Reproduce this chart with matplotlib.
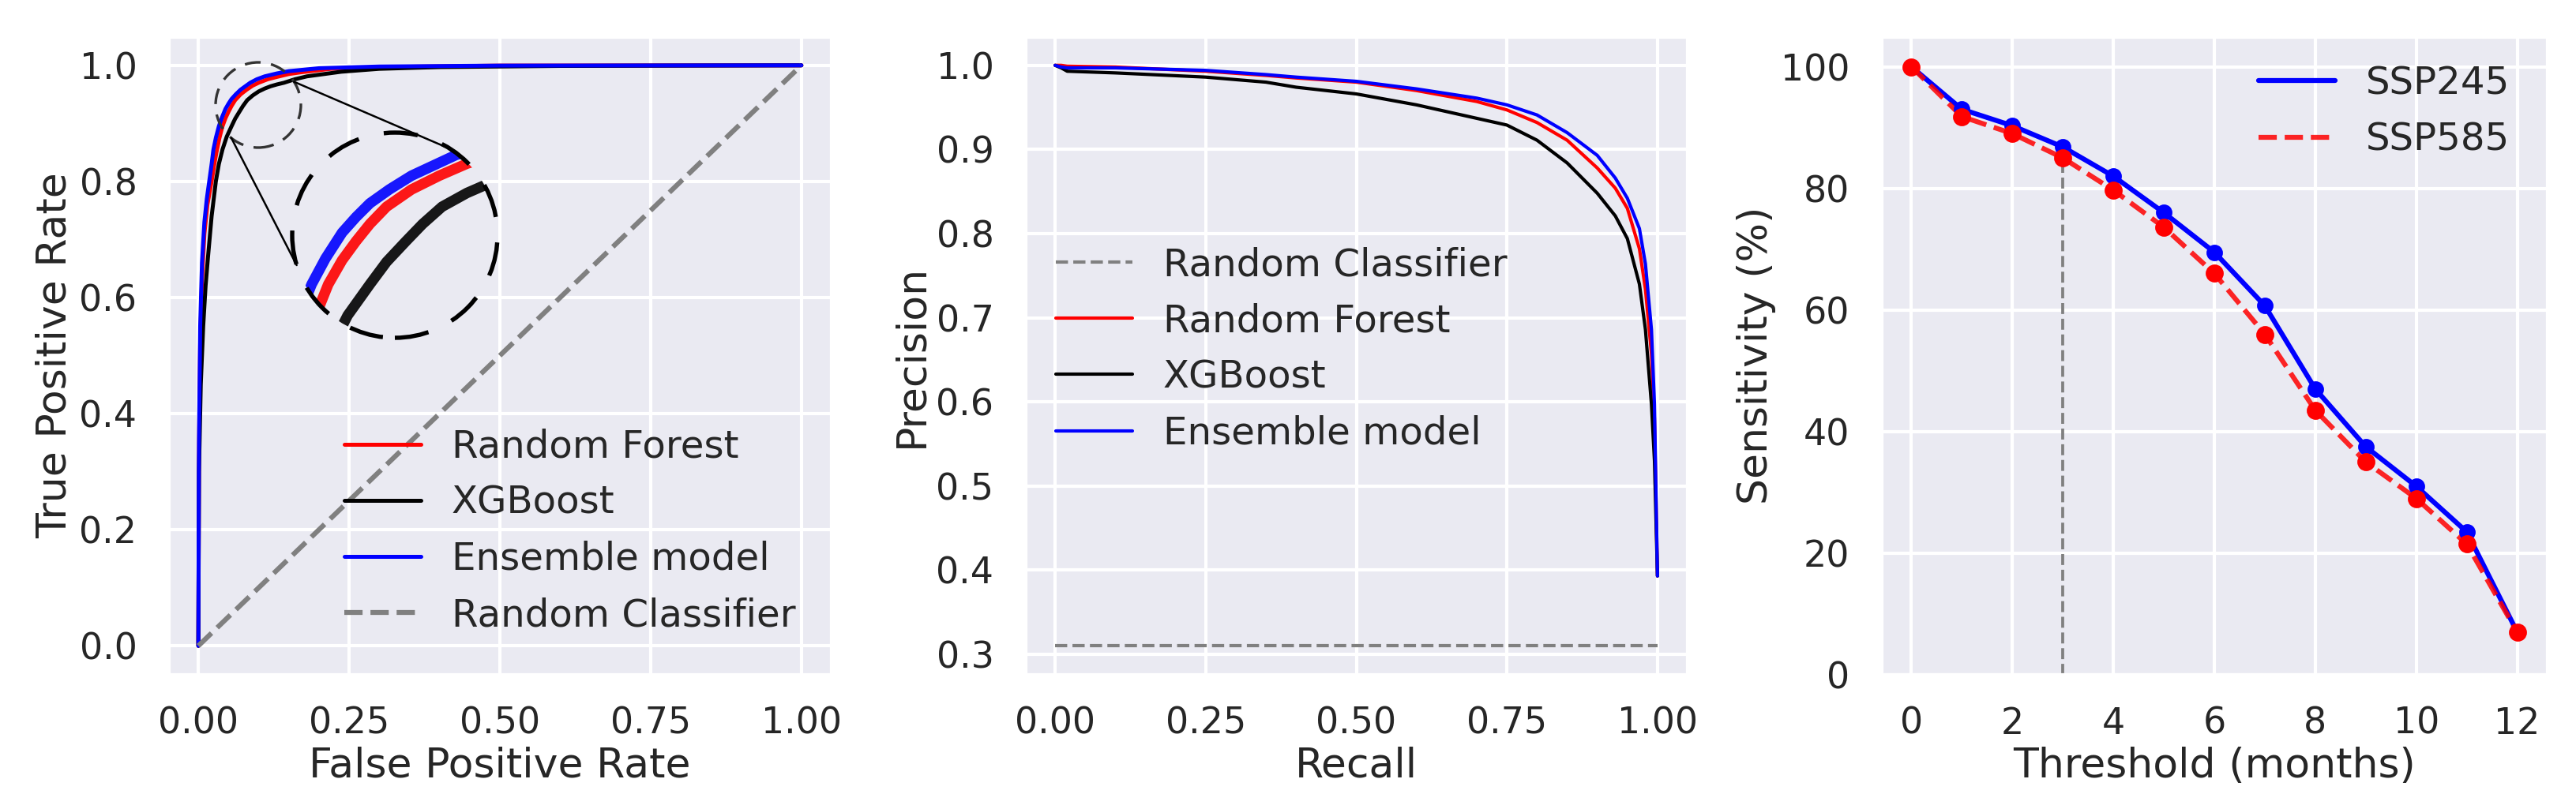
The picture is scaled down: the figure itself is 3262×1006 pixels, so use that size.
import numpy as np
import matplotlib
matplotlib.use('Agg')
from matplotlib import pyplot as plt
from matplotlib.patches import Circle
import seaborn as sns

### Data
# ROC curves (false positive rate, true positive rate)
rf_fpr = [0, 0.001, 0.003, 0.006, 0.01, 0.015, 0.022, 0.026, 0.03, 0.035, 0.04, 0.045, 0.05, 0.055, 0.061, 0.07,
	0.08, 0.09, 0.10, 0.115, 0.13, 0.15, 0.17, 0.22, 0.3, 0.5, 1.0]
rf_tpr = [0, 0.33, 0.52, 0.63, 0.71, 0.76, 0.80, 0.827, 0.85, 0.875, 0.895, 0.909, 0.92, 0.93, 0.94, 0.95,
	0.958, 0.965, 0.970, 0.976, 0.980, 0.985, 0.988, 0.994, 0.997, 0.9995, 1.0]
xgb_fpr = [0, 0.001, 0.004, 0.008, 0.012, 0.016, 0.022, 0.029, 0.034, 0.04, 0.047, 0.055, 0.061, 0.068, 0.074,
	0.081, 0.09, 0.1, 0.11, 0.12, 0.13, 0.142, 0.16, 0.18, 0.237, 0.3, 0.4, 0.6, 1.0]
xgb_tpr = [0, 0.30, 0.45, 0.55, 0.62, 0.67, 0.74, 0.80, 0.83, 0.855, 0.877, 0.895, 0.908, 0.92, 0.93,
	0.94, 0.948, 0.955, 0.96, 0.964, 0.967, 0.970, 0.976, 0.981, 0.989, 0.994, 0.997, 0.999, 1.0]
ens_fpr = [0, 0.001, 0.003, 0.006, 0.01, 0.014, 0.018, 0.022, 0.025, 0.029, 0.034, 0.039, 0.045, 0.05, 0.055,
	0.062, 0.07, 0.078, 0.086, 0.097, 0.11, 0.13, 0.15, 0.2, 0.3, 0.5, 1.0]
ens_tpr = [0, 0.35, 0.55, 0.66, 0.73, 0.77, 0.80, 0.83, 0.855, 0.875, 0.895, 0.91, 0.925, 0.934, 0.942,
	0.95, 0.958, 0.964, 0.970, 0.976, 0.981, 0.986, 0.990, 0.995, 0.998, 0.9995, 1.0]

# precision-recall curves
recall = [0, 0.01, 0.02, 0.1, 0.25, 0.35, 0.4, 0.5, 0.6, 0.7, 0.75, 0.8, 0.85, 0.9, 0.93, 0.95, 0.97, 0.98, 0.99, 0.995, 1.0]
rf_prec = [1.0, 1.0, 0.999, 0.998, 0.993, 0.988, 0.985, 0.980, 0.970, 0.957, 0.947, 0.932, 0.911, 0.878, 0.854, 0.830, 0.782, 0.734, 0.657, 0.58, 0.393]
xgb_prec = [1.0, 0.997, 0.993, 0.991, 0.986, 0.980, 0.974, 0.966, 0.953, 0.937, 0.929, 0.911, 0.884, 0.848, 0.821, 0.794, 0.740, 0.686, 0.597, 0.53, 0.393]
ens_prec = [1.0, 0.998, 0.997, 0.997, 0.994, 0.989, 0.986, 0.981, 0.972, 0.961, 0.953, 0.941, 0.920, 0.893, 0.866, 0.842, 0.806, 0.764, 0.686, 0.597, 0.393]
baseline_prec = 0.31

# sensitivity vs threshold
months = [0, 1, 2, 3, 4, 5, 6, 7, 8, 9, 10, 11, 12]
ssp245 = [100, 93, 90.3, 86.8, 82, 76, 69.5, 60.7, 47, 37.5, 31, 23.5, 7]
ssp585 = [100, 91.8, 89, 85, 79.7, 73.6, 66, 56, 43.5, 35, 29, 21.5, 7]
cut_month = 3

sns.set_theme(style='darkgrid')
plt.rcParams.update({
	'xtick.labelsize': 11,
	'ytick.labelsize': 11,
	'axes.labelsize': 12.5,
	'legend.fontsize': 11.6,
	'axes.labelpad': 1.5,
})

W, H, DPI = 3262, 1006, 300
fig = plt.figure(figsize=(W / DPI, H / DPI), dpi=DPI)

def box(left, top, right, bottom):
	return [left / W, (H - bottom) / H, (right - left) / W, (bottom - top) / H]

ax1 = fig.add_axes(box(213, 46, 1053, 855))
ax2 = fig.add_axes(box(1298, 46, 2137, 855))
ax3 = fig.add_axes(box(2382, 46, 3226, 855))

### ROC
ax1.plot(rf_fpr, rf_tpr, color='red', lw=1.2, label='Random Forest')
ax1.plot(xgb_fpr, xgb_tpr, color='black', lw=1.2, label='XGBoost')
ax1.plot(ens_fpr, ens_tpr, color='blue', lw=1.2, label='Ensemble model')
ax1.plot([0, 1], [0, 1], color='gray', ls='--', lw=1.5, label='Random Classifier')
ax1.set_xticks([0, 0.25, 0.5, 0.75, 1.0])
ax1.set_yticks([0, 0.2, 0.4, 0.6, 0.8, 1.0])
ax1.set_xlabel('False Positive Rate')
ax1.set_ylabel('True Positive Rate')
ax1.legend(loc='upper left', bbox_to_anchor=(0.243, 0.41), borderaxespad=0, frameon=False)

# zoomed circle inset
inch = fig.dpi_scale_trans
def px(x, y):
	return (x / DPI, (H - y) / DPI)

small_c, small_r = (327, 133), 54
big_c, big_r = (500, 298), 130
fig.add_artist(Circle(px(*small_c), small_r / DPI, transform=inch, fill=False,
	ec='0.2', lw=0.8, ls=(0, (6, 4)), zorder=3))

axin = fig.add_axes(box(big_c[0] - big_r, big_c[1] - big_r, big_c[0] + big_r, big_c[1] + big_r))
axin.patch.set_visible(False)
axin.grid(False)
axin.set_xticks([])
axin.set_yticks([])
for s in axin.spines.values():
	s.set_visible(False)
bg = Circle((0.5, 0.5), 0.5, transform=axin.transAxes, fc='#EAEAF2', ec='none', zorder=0)
axin.add_patch(bg)
for fx, ty, c in [(xgb_fpr, xgb_tpr, 'black'), (rf_fpr, rf_tpr, 'red'), (ens_fpr, ens_tpr, 'blue')]:
	ln, = axin.plot(fx, ty, color=c, lw=3.2, alpha=0.9, solid_joinstyle='round')
	ln.set_clip_path(bg)
axin.set_xlim(0.027, 0.101)
axin.set_ylim(0.864, 0.983)
fig.add_artist(Circle(px(*big_c), big_r / DPI, transform=inch, fill=False,
	ec='black', lw=1.3, ls=(0, (8, 6)), zorder=3))

def on_circle(c, r, deg):
	a = np.deg2rad(deg)
	return px(c[0] + r * np.cos(a), c[1] - r * np.sin(a))

for a_s, a_b in [(33, 57), (231, 197)]:
	p1 = on_circle(small_c, small_r, a_s)
	p2 = on_circle(big_c, big_r, a_b)
	fig.add_artist(plt.Line2D([p1[0], p2[0]], [p1[1], p2[1]], transform=inch, color='black', lw=0.6, zorder=3))

### Precision-recall
ax2.plot([0, 1], [baseline_prec, baseline_prec], color='gray', ls='--', lw=1.0, label='Random Classifier')
ax2.plot(recall, rf_prec, color='red', lw=1.0, label='Random Forest')
ax2.plot(recall, xgb_prec, color='black', lw=1.0, label='XGBoost')
ax2.plot(recall, ens_prec, color='blue', lw=1.0, label='Ensemble model')
ax2.set_xticks([0, 0.25, 0.5, 0.75, 1.0])
ax2.set_yticks([0.3, 0.4, 0.5, 0.6, 0.7, 0.8, 0.9, 1.0])
ax2.set_xlabel('Recall')
ax2.set_ylabel('Precision')
ax2.legend(loc='upper left', bbox_to_anchor=(0.024, 0.695), borderaxespad=0, frameon=False)

### Sensitivity
ax3.plot(months, ssp245, color='blue', lw=1.5, label='SSP245')
ax3.plot(months, ssp585, color='red', lw=1.5, ls='--', alpha=0.85, label='SSP585')
ax3.scatter(months, ssp245, color='blue', s=16, zorder=3)
ax3.scatter(months, ssp585, color='red', s=20, zorder=3)
ax3.vlines(cut_month, 0, ssp585[months.index(cut_month)], color='gray', ls='--', lw=0.9)
ax3.set_ylim(0, 105)
ax3.set_xticks([0, 2, 4, 6, 8, 10, 12])
ax3.set_yticks([0, 20, 40, 60, 80, 100])
ax3.set_xlabel('Threshold (months)')
ax3.set_ylabel('Sensitivity (%)')
ax3.legend(loc='upper left', bbox_to_anchor=(0.544, 0.979), borderaxespad=0, frameon=False)

fig.savefig('out.png', dpi=DPI)
